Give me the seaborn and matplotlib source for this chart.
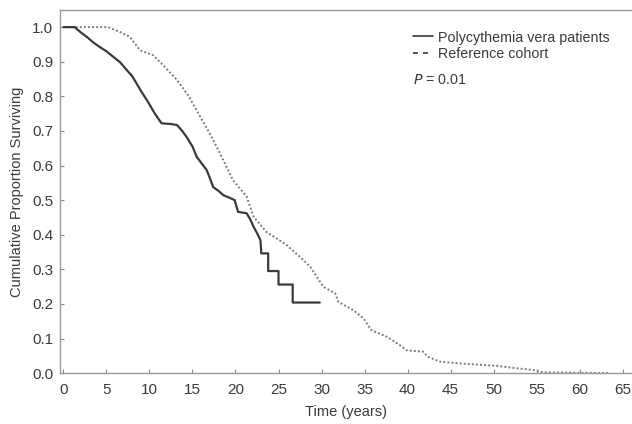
import pandas as pd
import matplotlib.pyplot as plt
import seaborn as sns
from matplotlib.lines import Line2D

# Survival curves
pv_time = [0, 1.3, 2.0, 2.7, 3.5, 4.2, 5.0, 5.8, 6.6, 7.35, 8.0, 8.5, 9.1, 9.7, 10.2, 10.6, 11.4, 12.5, 13.2,
           13.8, 14.3, 15.0, 15.5, 16.1, 16.65, 17.0, 17.4, 18.0, 18.6, 19.3, 19.9, 20.3, 21.3, 21.7, 22.1,
           22.5, 22.9, 23.0, 23.8, 23.8, 25.0, 25.0, 26.65, 26.65, 29.8]
pv_surv = [1.0, 1.0, 0.985, 0.972, 0.955, 0.943, 0.93, 0.914, 0.898, 0.876, 0.858, 0.837, 0.812, 0.789, 0.768,
           0.751, 0.722, 0.72, 0.717, 0.70, 0.683, 0.655, 0.625, 0.605, 0.587, 0.565, 0.538, 0.527, 0.514,
           0.507, 0.50, 0.466, 0.462, 0.445, 0.423, 0.405, 0.384, 0.346, 0.346, 0.295, 0.295, 0.256, 0.256,
           0.204, 0.204]

ref_time = [0, 5.2, 6.57, 7.7, 8.9, 10.4, 11.6, 13.2, 14.5, 15.9, 17.0, 18.2, 19.7, 21.3, 22.1, 23.6,
            24.8, 25.95, 27.5, 28.7, 30.2, 31.6, 31.95, 33.7, 34.9, 35.8, 37.6, 39.1, 39.9, 41.8, 42.4,
            43.8, 46.1, 50.4, 52.7, 54.6, 55.8, 63.5]
ref_surv = [1.0, 1.0, 0.986, 0.972, 0.933, 0.919, 0.89, 0.847, 0.803, 0.741, 0.693, 0.635, 0.558, 0.51, 0.452, 0.408,
            0.389, 0.37, 0.336, 0.307, 0.25, 0.23, 0.206, 0.182, 0.158, 0.124, 0.105, 0.081, 0.066, 0.062, 0.047,
            0.033, 0.028, 0.021, 0.014, 0.009, 0.002, 0.0]

labels = ["Polycythemia vera patients", "Reference cohort"]
x_ticks = list(range(0, 70, 5))
y_ticks = [i / 10 for i in range(11)]

pv = pd.DataFrame({"time": pv_time, "surv": pv_surv})
ref = pd.DataFrame({"time": ref_time, "surv": ref_surv})

sns.set_style("ticks")
plt.rcParams["font.family"] = ["Liberation Sans", "DejaVu Sans"]
text_col = "#3a3a3a"

fig = plt.figure(figsize=(6.32, 4.24), dpi=100)
ax = fig.add_axes([0.095, 0.12, 0.905, 0.856])

sns.lineplot(data=ref, x="time", y="surv", ax=ax, estimator=None, sort=False,
             color="#7a7a7a", linewidth=1.4, linestyle=(0, (1, 1.1)))
sns.lineplot(data=pv, x="time", y="surv", ax=ax, estimator=None, sort=False,
             color="#3a3a3a", linewidth=1.6)

ax.set_xlim(-0.4, 66.1)
ax.set_ylim(0, 1.049)
ax.set_xticks(x_ticks)
ax.set_yticks(y_ticks)
ax.set_yticklabels([f"{v:.1f}" for v in y_ticks])
ax.tick_params(direction="in", length=3, width=0.8, color="#888888",
               labelsize=11, labelcolor=text_col)
ax.tick_params(axis="x", pad=7)
ax.tick_params(axis="y", pad=5)
ax.set_xlabel("Time (years)", fontsize=10.5, color=text_col, labelpad=6)
ax.set_ylabel("Cumulative Proportion Surviving", fontsize=10.5, color=text_col, labelpad=6)

for side in ["left", "bottom", "top"]:
    ax.spines[side].set_color("#999999")
    ax.spines[side].set_linewidth(1.0)
ax.spines["right"].set_visible(False)

handles = [Line2D([], [], color="#3a3a3a", linewidth=1.2),
           Line2D([], [], color="#3a3a3a", linewidth=1.2, linestyle=(0, (3, 3)))]
leg = ax.legend(handles, labels, loc="upper left", bbox_to_anchor=(0.617, 0.944),
                frameon=False, fontsize=10.3, handlelength=1.4, handletextpad=0.35,
                labelspacing=0.15, borderaxespad=0, borderpad=0)
for t in leg.get_texts():
    t.set_color(text_col)
ax.text(0.617, 0.807, r"$P$ = 0.01", transform=ax.transAxes, fontsize=10.3,
        color=text_col, va="center")

fig.savefig("out.png", dpi=100)
